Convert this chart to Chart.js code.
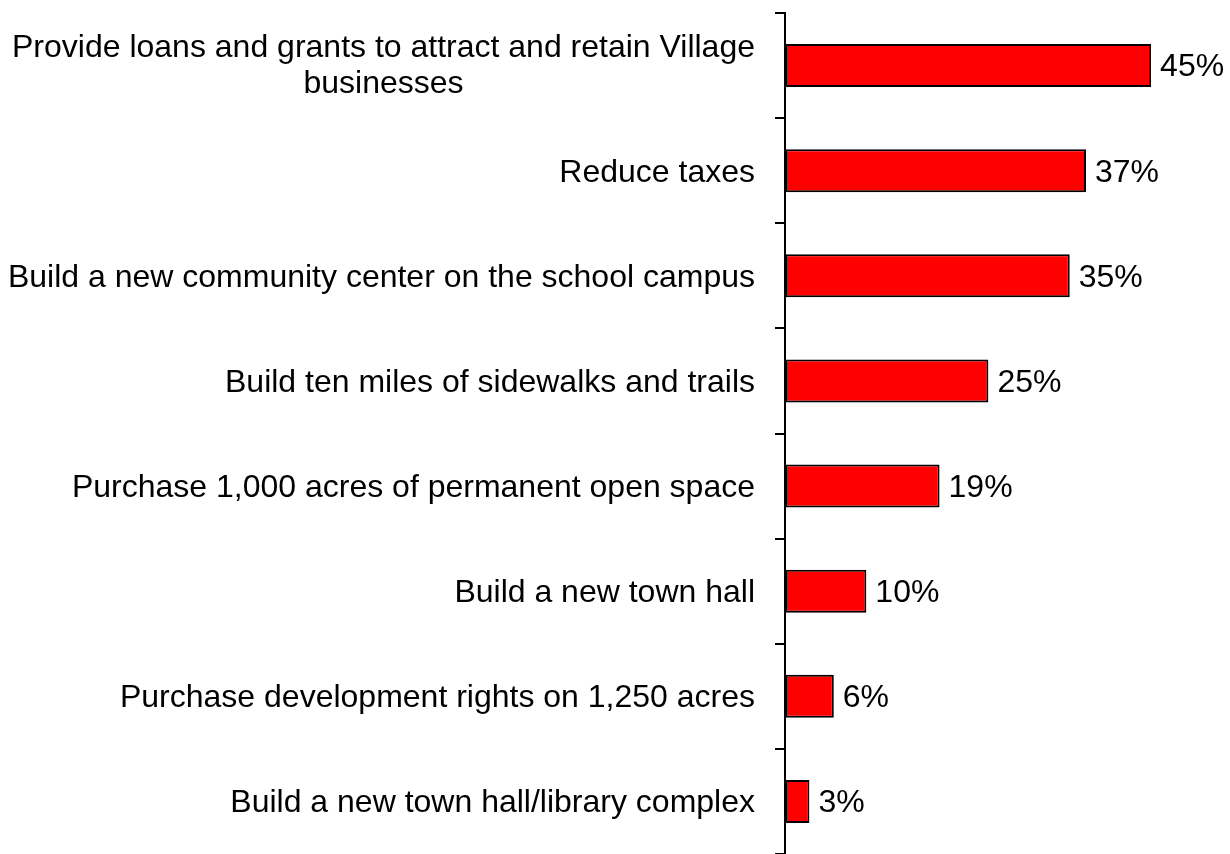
<!DOCTYPE html>
<html>
<head>
<meta charset="utf-8">
<script src="https://cdn.jsdelivr.net/npm/chart.js@4"></script>
<style>
  html, body { margin: 0; padding: 0; background: #fff; }
  #wrap { width: 1230px; height: 854px; }
</style>
</head>
<body>
<div id="wrap"><canvas id="chart" width="1230" height="854"></canvas></div>
<script>
const categories = [
    ['Provide loans and grants to attract and retain Village', 'businesses'],
    ['Reduce taxes'],
    ['Build a new community center on the school campus'],
    ['Build ten miles of sidewalks and trails'],
    ['Purchase 1,000 acres of permanent open space'],
    ['Build a new town hall'],
    ['Purchase development rights on 1,250 acres'],
    ['Build a new town hall/library complex']
];
const percents = [45, 37, 35, 25, 19, 10, 6, 3];

const FONT = '32px "Liberation Sans", Arial, sans-serif';
const AXIS_X = 785;

// draws the category names (multi-line ones centred on themselves)
const categoryLabels = {
    id: 'categoryLabels',
    afterDraw(chart) {
        const ctx = chart.ctx;
        const yScale = chart.scales.y;
        ctx.save();
        ctx.font = FONT;
        ctx.fillStyle = '#000';
        ctx.textBaseline = 'middle';
        const rightEdge = AXIS_X - 30;
        categories.forEach((lines, i) => {
            const y = yScale.getPixelForValue(i) + 2;
            const lineH = 36;
            const top = y - 1 - (lines.length - 1) * lineH / 2;
            if (lines.length === 1) {
                ctx.textAlign = 'right';
                ctx.fillText(lines[0], rightEdge, y);
            } else {
                const maxW = Math.max(...lines.map(l => ctx.measureText(l).width));
                ctx.textAlign = 'center';
                lines.forEach((l, j) => ctx.fillText(l, rightEdge - maxW / 2, top + j * lineH));
            }
        });
        ctx.restore();
    }
};

// percentage labels at the end of each bar
const valueLabels = {
    id: 'valueLabels',
    afterDatasetsDraw(chart) {
        const ctx = chart.ctx;
        const meta = chart.getDatasetMeta(0);
        ctx.save();
        ctx.font = FONT;
        ctx.fillStyle = '#000';
        ctx.textAlign = 'left';
        ctx.textBaseline = 'middle';
        meta.data.forEach((bar, i) => {
            ctx.fillText(percents[i] + '%', bar.x + 9, bar.y + 2);
        });
        ctx.restore();
    }
};

new Chart(document.getElementById('chart'), {
    type: 'bar',
    data: {
        labels: categories,
        datasets: [{
            data: percents,
            backgroundColor: '#ff0000',
            borderColor: '#000',
            borderWidth: 2,
            borderSkipped: false,
            categoryPercentage: 0.41,
            barPercentage: 1.0
        }]
    },
    options: {
        indexAxis: 'y',
        responsive: false,
        animation: false,
        layout: { padding: { top: 13, bottom: 0, left: 0, right: 0 } },
        plugins: {
            legend: { display: false },
            tooltip: { enabled: false }
        },
        scales: {
            x: {
                display: false,
                min: 0,
                max: 54.7
            },
            y: {
                offset: true,
                afterFit(scale) { scale.width = AXIS_X; },
                border: { display: true, color: '#000', width: 2 },
                grid: {
                    offset: true,
                    drawOnChartArea: false,
                    drawTicks: true,
                    tickLength: 10,
                    color: '#000',
                    lineWidth: 2
                },
                ticks: { display: false }
            }
        }
    },
    plugins: [categoryLabels, valueLabels]
});
</script>
</body>
</html>
